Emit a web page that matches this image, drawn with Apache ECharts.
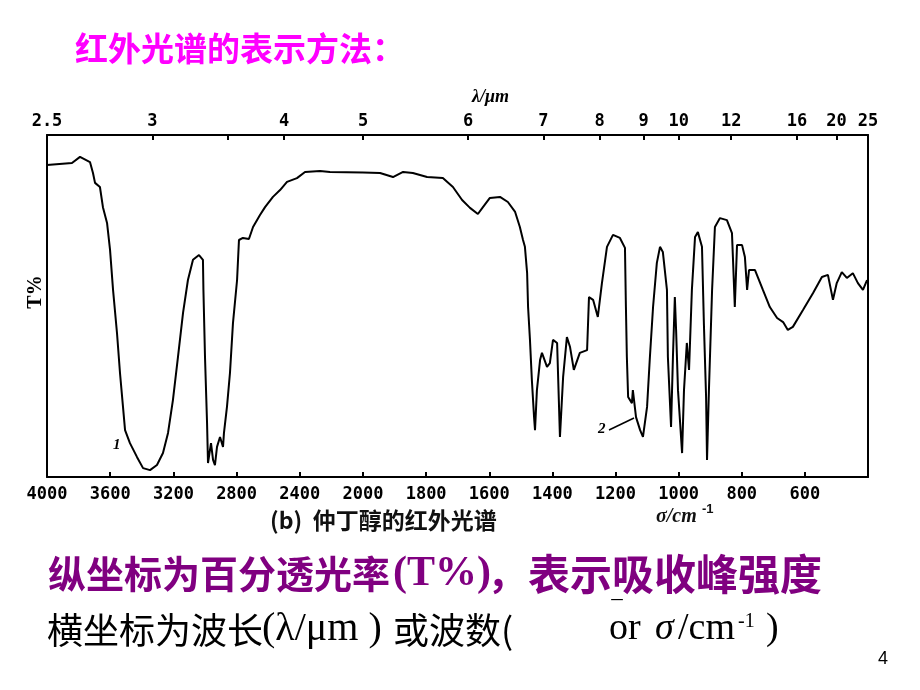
<!DOCTYPE html>
<html><head><meta charset="utf-8">
<script src="https://cdn.jsdelivr.net/npm/echarts@6/dist/echarts.min.js"></script>
<style>html,body{margin:0;padding:0;background:#fff}#c{width:920px;height:690px}</style>
</head><body><div id="c"></div>
<script>
// Wavenumber (cm-1) and transmittance (T%)
// Part 1: 4000-2000 cm-1 (compressed scale)
var nu1 = [4000,3842,3791,3728,3709,3696,3665,3646,3620,3601,3582,3557,3538,3519,3506,3475,3430,3392,3348,3304,3266,3234,3203,3171,3139,3108,3076,3038,3013,3010,3000,2987,2981,2962,2949,2937,2924,2905,2886,2880,2861,2842,2823,2797,2785,2760,2722,2696,2652,2620,2570,2525,2481,2418,2367,2272,2209,2000];
var t1  = [91.2,91.8,93.6,92.1,88.9,86.0,84.8,78.9,74.3,66.4,54.7,42.1,30.4,20.5,13.7,9.9,5.8,2.6,2.0,3.5,7.0,12.9,22.5,35.1,48.0,57.6,63.5,64.9,63.5,54.7,35.1,15.8,4.1,9.9,5.0,3.5,8.8,11.7,8.8,12.9,20.5,30.4,45.0,57.6,69.3,69.9,69.6,73.1,76.6,78.9,81.9,83.9,86.3,87.4,89.2,89.5,89.2,89.0];
// Part 2: 2000-400 cm-1 (expanded scale)
var nu2 = [2000,1946,1905,1873,1842,1797,1747,1715,1686,1661,1636,1620,1598,1566,1541,1518,1503,1493,1487,1480,1477,1471,1465,1458,1455,1449,1439,1433,1417,1408,1398,1385,1376,1366,1354,1344,1332,1313,1290,1284,1271,1256,1243,1227,1208,1186,1170,1167,1164,1160,1148,1145,1135,1122,1113,1100,1091,1081,1069,1059,1050,1037,1034,1024,1018,1012,1008,1002,989,983,974,967,958,948,939,926,920,913,910,904,894,885,869,847,831,828,822,815,799,790,783,777,758,733,711,688,669,654,638,606,574,546,527,511,499,483,467,448,432,416,403];
var t2  = [89.0,88.9,87.7,89.2,88.9,87.7,87.4,84.8,81.0,78.7,76.9,78.9,81.6,81.9,80.4,77.5,73.1,69.3,67.3,59.6,49.7,40.1,28.4,17.5,13.7,25.4,34.2,36.3,32.2,33.3,40.1,39.2,11.7,29.2,40.9,38.0,31.3,36.3,37.1,52.6,51.8,46.8,56.7,67.3,70.8,69.9,67.0,49.7,35.1,23.4,21.6,25.4,17.5,13.7,11.7,20.5,35.1,49.7,62.6,67.3,65.8,54.7,35.1,14.6,35.1,52.6,43.0,25.4,7.0,25.4,39.2,31.3,54.7,70.2,71.6,67.3,45.0,23.4,5.0,25.4,54.7,73.1,75.7,75.1,71.3,64.3,49.7,67.8,67.8,64.3,54.7,60.5,60.5,54.7,49.7,46.5,45.3,43.0,43.9,48.8,53.8,58.5,59.1,51.8,56.7,59.9,58.2,59.6,56.7,54.7,57.6];
// Tick labels
var bottomTicks1 = [4000,3600,3200,2800,2400];
var bottomTicks2 = [2000,1800,1600,1400,1200,1000,800,600];
var umTicks1 = [2.5,3,3.5,4];
var umLabels1 = [2.5,3,4];
var umTicks2 = [5,6,7,8,9,10,12,16,20,25];

function toNu(arr){ return arr.map(function(u){ return 10000/u; }); }
function zip(a,b){ return a.map(function(v,i){ return [v,b[i]]; }); }

var chart = echarts.init(document.getElementById('c'));
var lineSt = {color:'#000', width:2};
var lblBottom = {fontFamily:'DejaVu Sans Mono', fontWeight:'bold', fontSize:17, color:'#000', margin:9};
var lblTop = {fontFamily:'DejaVu Sans Mono', fontWeight:'bold', fontSize:17, color:'#000', margin:5};

function numFmt(v){ return String(Math.round(v)); }
function umFmt(v){ var r = Math.round(10000/v*10)/10; return String(r); }

var shadow = {textShadowColor:'rgba(0,0,0,0.3)', textShadowOffsetX:2, textShadowOffsetY:2};
function purple(o){ return Object.assign({fill:'#800080', fontWeight:'bold'}, shadow, o); }

var option = {
  backgroundColor:'#fff',
  animation:false,
  grid:[
    {left:47, top:135, width:316, height:342},
    {left:363, top:135, width:505, height:342}
  ],
  xAxis:[
    {gridIndex:0, type:'value', min:2000, max:4000, inverse:true, position:'bottom',
     axisLine:{lineStyle:lineSt}, splitLine:{show:false},
     axisTick:{inside:true, length:5, lineStyle:lineSt, customValues:bottomTicks1},
     axisLabel:Object.assign({customValues:bottomTicks1, showMinLabel:true, showMaxLabel:true, formatter:numFmt}, lblBottom)},
    {gridIndex:1, type:'value', min:400, max:2000, inverse:true, position:'bottom',
     axisLine:{lineStyle:lineSt}, splitLine:{show:false},
     axisTick:{inside:true, length:5, lineStyle:lineSt, customValues:bottomTicks2.concat([400])},
     axisLabel:Object.assign({customValues:bottomTicks2, showMinLabel:true, showMaxLabel:true, formatter:numFmt}, lblBottom)},
    {gridIndex:0, type:'value', min:2000, max:4000, inverse:true, position:'top',
     axisLine:{lineStyle:lineSt}, splitLine:{show:false},
     axisTick:{inside:true, length:5, lineStyle:lineSt, customValues:toNu(umTicks1)},
     axisLabel:Object.assign({customValues:toNu(umLabels1), showMinLabel:true, showMaxLabel:true, formatter:umFmt}, lblTop)},
    {gridIndex:1, type:'value', min:400, max:2000, inverse:true, position:'top',
     axisLine:{lineStyle:lineSt}, splitLine:{show:false},
     axisTick:{inside:true, length:5, lineStyle:lineSt, customValues:toNu(umTicks2)},
     axisLabel:Object.assign({customValues:toNu(umTicks2), showMinLabel:true, showMaxLabel:true, formatter:umFmt}, lblTop)}
  ],
  yAxis:[
    {gridIndex:0, type:'value', min:0, max:100, position:'left',
     axisLine:{show:true, lineStyle:lineSt}, axisTick:{show:false}, axisLabel:{show:false}, splitLine:{show:false}},
    {gridIndex:1, type:'value', min:0, max:100, position:'right',
     axisLine:{show:true, lineStyle:lineSt}, axisTick:{show:false}, axisLabel:{show:false}, splitLine:{show:false}}
  ],
  series:[
    {type:'line', xAxisIndex:0, yAxisIndex:0, data:zip(nu1,t1), showSymbol:false, symbol:'none',
     lineStyle:{color:'#000', width:2}, clip:false},
    {type:'line', xAxisIndex:1, yAxisIndex:1, data:zip(nu2,t2), showSymbol:false, symbol:'none',
     lineStyle:{color:'#000', width:2}, clip:false}
  ],
  graphic:[
    {type:'text', left:75, top:32, style:{text:'红外光谱的表示方法：', fontFamily:'Noto Sans CJK SC', fontWeight:'bold', fontSize:33, fill:'#ff00ff'}},
    {type:'text', left:472, top:88, style:{text:'λ/μm', fontFamily:'Liberation Serif', fontStyle:'italic', fontWeight:'bold', fontSize:18, fill:'#000'}},
    {type:'text', x:36, y:292, rotation:Math.PI/2, style:{text:'T%', fontFamily:'Liberation Serif', fontWeight:'bold', fontSize:20, fill:'#000', align:'center', verticalAlign:'middle'}},
    {type:'text', left:113, top:438, style:{text:'1', fontFamily:'Liberation Serif', fontStyle:'italic', fontWeight:'bold', fontSize:15, fill:'#000'}},
    {type:'text', left:598, top:422, style:{text:'2', fontFamily:'Liberation Serif', fontStyle:'italic', fontWeight:'bold', fontSize:15, fill:'#000'}},
    {type:'line', shape:{x1:609, y1:430, x2:634, y2:418}, style:{stroke:'#000', lineWidth:1.5}},
    {type:'text', left:270, top:509, style:{text:'(b)  仲丁醇的红外光谱', fontFamily:'Noto Sans CJK SC', fontWeight:'bold', fontSize:23, fill:'#111'}},
    {type:'text', left:656, top:507, style:{text:'σ/cm', fontFamily:'Liberation Serif', fontStyle:'italic', fontWeight:'bold', fontSize:20, fill:'#111'}},
    {type:'text', left:702, top:503, style:{text:'-1', fontFamily:'Liberation Sans', fontWeight:'bold', fontSize:13, fill:'#111'}},
    {type:'text', left:48, top:555, style:purple({text:'纵坐标为百分透光率', fontFamily:'Noto Sans CJK SC', fontSize:38})},
    {type:'text', left:393, top:553, style:purple({text:'(T%)', fontFamily:'Liberation Serif', fontSize:42})},
    {type:'text', left:487, top:553, style:purple({text:'，', fontFamily:'Noto Sans CJK SC', fontSize:40})},
    {type:'text', left:528, top:553, style:purple({text:'表示吸收峰强度', fontFamily:'Noto Sans CJK SC', fontSize:42})},
    {type:'text', left:47, top:612, style:{text:'横坐标为波长', fontFamily:'Noto Sans CJK SC', fontSize:36, fill:'#000'}},
    {type:'text', left:262, top:609, style:{text:'(λ/μm )', fontFamily:'Liberation Serif', fontSize:40, fill:'#000'}},
    {type:'text', left:393, top:612, style:{text:'或波数(', fontFamily:'Noto Sans CJK SC', fontSize:36, fill:'#000'}},
    {type:'text', left:612, top:600, style:{text:'‾', fontFamily:'Liberation Serif', fontSize:30, fill:'#000'}},
    {type:'text', left:609, top:610, style:{text:'or', fontFamily:'Liberation Serif', fontSize:38, fill:'#000'}},
    {type:'text', left:655, top:610, style:{text:'σ', fontFamily:'Liberation Serif', fontStyle:'italic', fontSize:38, fill:'#000'}},
    {type:'text', left:678, top:610, style:{text:'/cm', fontFamily:'Liberation Serif', fontSize:38, fill:'#000'}},
    {type:'text', left:738, top:612, style:{text:'-1', fontFamily:'Liberation Serif', fontSize:20, fill:'#000'}},
    {type:'text', left:766, top:610, style:{text:')', fontFamily:'Liberation Serif', fontSize:38, fill:'#000'}},
    {type:'text', left:878, top:650, style:{text:'4', fontFamily:'Liberation Sans', fontSize:18, fill:'#000'}}
  ]
};
chart.setOption(option);
</script></body></html>
